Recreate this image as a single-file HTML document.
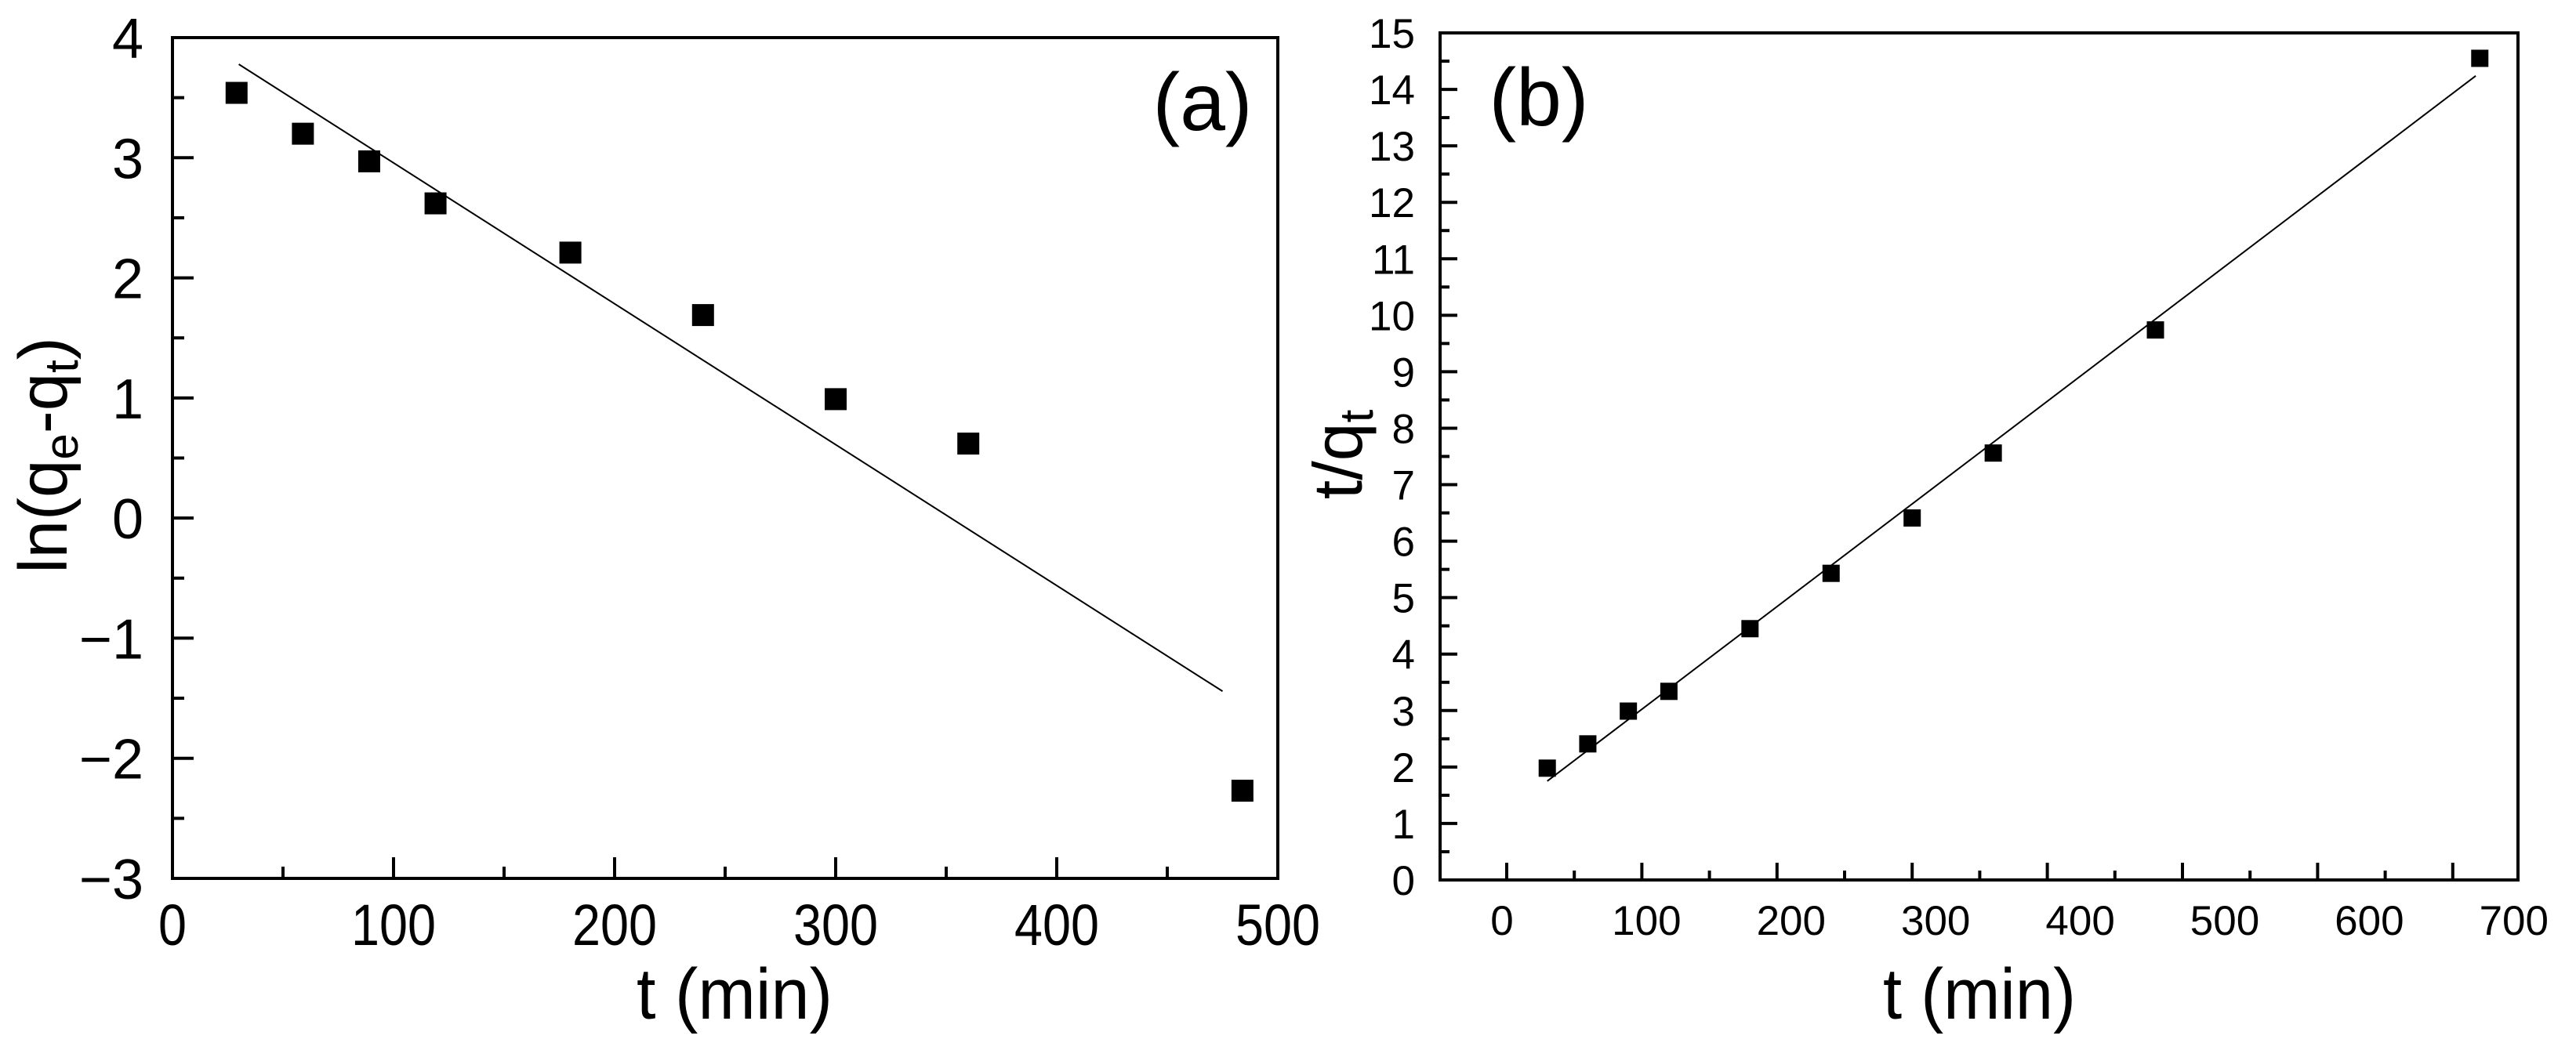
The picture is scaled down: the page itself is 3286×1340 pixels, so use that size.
<!DOCTYPE html>
<html><head><meta charset="utf-8"><style>
html,body{margin:0;padding:0;background:#fff;}
svg{display:block;font-family:"Liberation Sans",sans-serif;}
</style></head><body>
<svg id="chart" width="3286" height="1340" viewBox="0 0 3286 1340" xmlns="http://www.w3.org/2000/svg">
<g id="pa"></g>
<g id="pb"></g>
</svg>
<script>
// Panel (a): pseudo-first-order
const aTimes = [29, 59, 89, 119, 180, 240, 300, 360, 484];
const aValues = [3.54, 3.20, 2.97, 2.62, 2.21, 1.69, 0.99, 0.62, -2.27];
const aFitX = [30, 475];
const aFitSlope = -0.01173;
const aFitIntercept = 4.13;
const aXTicks = [0, 100, 200, 300, 400, 500];
const aYTicks = [4, 3, 2, 1, 0, -1, -2, -3];

// Panel (b): pseudo-second-order
const bTimes = [30, 60, 90, 120, 180, 240, 300, 360, 480, 720];
const bValues = [1.98, 2.41, 2.99, 3.34, 4.45, 5.43, 6.41, 7.56, 9.74, 14.55];
const bFitX = [30, 717];
const bFitSlope = 0.01818;
const bFitIntercept = 1.205;
const bXTickLabels = ["0", "100", "200", "300", "400", "500", "600", "700"];
const bYTicks = [0,1,2,3,4,5,6,7,8,9,10,11,12,13,14,15];

const NS = "http://www.w3.org/2000/svg";
function mk(parent, tag, attrs, text) {
  const e = document.createElementNS(NS, tag);
  for (const k in attrs) e.setAttribute(k, attrs[k]);
  if (text !== undefined) e.textContent = text;
  parent.appendChild(e);
  return e;
}

// ---------- Panel A ----------
(function(){
  const g = document.getElementById('pa');
  const L = 220, R = 1630, T = 48, B = 1121;
  const xS = v => L + (v - 0) / 500 * (R - L);
  const yS = v => T + (4 - v) / 7 * (B - T);
  let e = mk(g, 'rect', {x:L, y:T, width:R-L, height:B-T, fill:'none', stroke:'#000', 'stroke-width':4});
  
  
  for (let v = 0; v <= 500; v += 50) {
    const major = v % 100 === 0;
    e = mk(g, 'line', {x1:xS(v), x2:xS(v), y1:B, y2:B-(major?27:15), stroke:'#000', 'stroke-width':4});
    
    
  }
  for (let v = -3; v <= 4; v += 0.5) {
    const major = Number.isInteger(v);
    e = mk(g, 'line', {x1:L, x2:L+(major?27:15), y1:yS(v), y2:yS(v), stroke:'#000', 'stroke-width':4});
    
    
  }
  aXTicks.forEach(v => {
    const s = String(v);
    e = mk(g, 'text', {x:xS(v), y:1206, 'font-size':74, 'text-anchor':'middle', textLength:s.length*36, lengthAdjust:'spacingAndGlyphs'}, s);
    
    
  });
  aYTicks.forEach(v => {
    const s = v < 0 ? '\u2212' + Math.abs(v) : String(v);
    e = mk(g, 'text', {x:183, y:yS(v)+26, 'font-size':72, 'text-anchor':'end'}, s);
    
    
  });
  e = mk(g, 'line', {x1:xS(aFitX[0]), y1:yS(aFitIntercept + aFitSlope*aFitX[0]), x2:xS(aFitX[1]), y2:yS(aFitIntercept + aFitSlope*aFitX[1]), stroke:'#000', 'stroke-width':2});
  
  
  aTimes.forEach((t, i) => {
    e = mk(g, 'rect', {x:xS(t)-14, y:yS(aValues[i])-14, width:28, height:28, fill:'#000'});
    
    
  });
  e = mk(g, 'text', {x:937, y:1300, 'font-size':92, 'text-anchor':'middle', textLength:250, lengthAdjust:'spacingAndGlyphs'}, 't (min)');
  
  
  e = mk(g, 'text', {x:0, y:0, 'font-size':87, transform:'translate(85,581) rotate(-90)', 'text-anchor':'middle'});
  
  
  e.innerHTML = 'ln(q<tspan dy="14" font-size="60">e</tspan><tspan dy="-14">-q</tspan><tspan dy="14" font-size="60">t</tspan><tspan dy="-14">)</tspan>';
  e = mk(g, 'text', {x:1534, y:166, 'font-size':104, 'text-anchor':'middle'}, '(a)');
  
  
})();

// ---------- Panel B ----------
(function(){
  const g = document.getElementById('pb');
  const L = 1837, R = 3212, T = 42, B = 1123;
  const x0 = 1922, pxPer100 = 172.4;
  const xS = v => x0 + v / 100 * pxPer100;
  const labelS = i => 1916 + i * 184.4;
  const yS = v => B - v / 15 * (B - T);
  let e = mk(g, 'rect', {x:L, y:T, width:R-L, height:B-T, fill:'none', stroke:'#000', 'stroke-width':4});
  
  
  for (let v = 0; v <= 700; v += 50) {
    const major = v % 100 === 0;
    e = mk(g, 'line', {x1:xS(v), x2:xS(v), y1:B, y2:B-(major?22:12), stroke:'#000', 'stroke-width':4});
    
    
  }
  for (let v = 0; v <= 15; v += 0.5) {
    const major = Number.isInteger(v);
    e = mk(g, 'line', {x1:L, x2:L+(major?22:12), y1:yS(v), y2:yS(v), stroke:'#000', 'stroke-width':4});
    
    
  }
  bXTickLabels.forEach((s, i) => {
    e = mk(g, 'text', {x:labelS(i), y:1193, 'font-size':53, 'text-anchor':'middle'}, s);
    
    
  });
  bYTicks.forEach(v => {
    e = mk(g, 'text', {x:1805, y:yS(v)+19, 'font-size':53, 'text-anchor':'end'}, String(v));
    
    
  });
  e = mk(g, 'line', {x1:xS(bFitX[0]), y1:yS(bFitIntercept + bFitSlope*bFitX[0]), x2:xS(bFitX[1]), y2:yS(bFitIntercept + bFitSlope*bFitX[1]), stroke:'#000', 'stroke-width':2});
  
  
  bTimes.forEach((t, i) => {
    e = mk(g, 'rect', {x:xS(t)-11, y:yS(bValues[i])-11, width:22, height:22, fill:'#000'});
    
    
  });
  e = mk(g, 'text', {x:2525, y:1300, 'font-size':92, 'text-anchor':'middle', textLength:246, lengthAdjust:'spacingAndGlyphs'}, 't (min)');
  
  
  e = mk(g, 'text', {x:0, y:0, 'font-size':88, transform:'translate(1737,580) rotate(-90)', 'text-anchor':'middle'});
  
  
  e.innerHTML = 't/q<tspan dy="14" font-size="60">t</tspan>';
  e = mk(g, 'text', {x:1963, y:160, 'font-size':104, 'text-anchor':'middle'}, '(b)');
  
  
})();
</script>
</body></html>
